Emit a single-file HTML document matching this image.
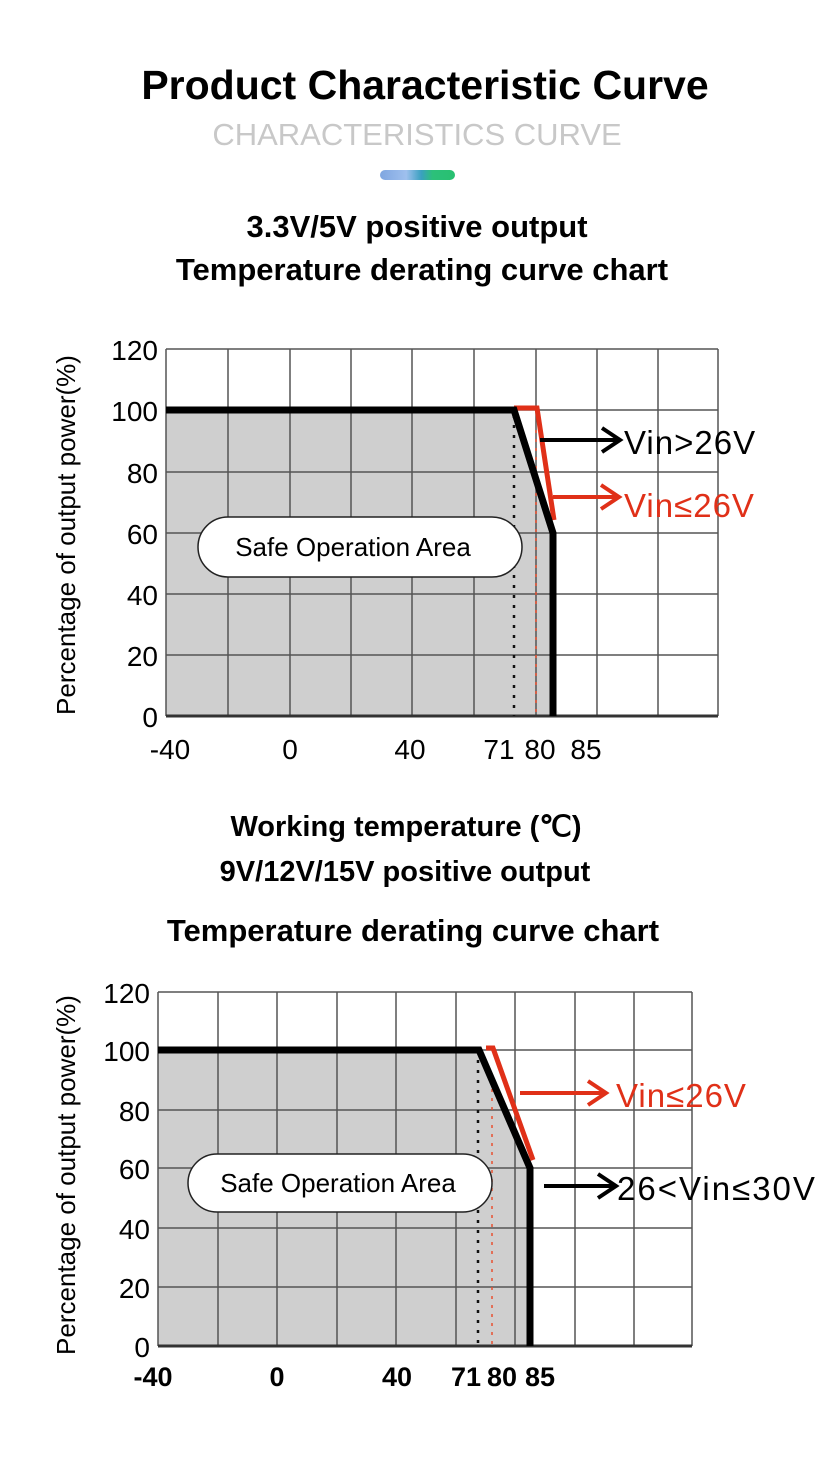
<!DOCTYPE html>
<html><head><meta charset="utf-8"><style>
html,body{margin:0;padding:0;background:#fff;}
svg{display:block;}
text{font-family:"Liberation Sans",sans-serif;}
</style></head><body>
<svg width="833" height="1472" viewBox="0 0 833 1472" xmlns="http://www.w3.org/2000/svg">
<defs>
<linearGradient id="g" x1="0" x2="1"><stop offset="0" stop-color="#7fa6e0"/><stop offset="0.35" stop-color="#9fc0ee"/><stop offset="0.55" stop-color="#3aa0c0"/><stop offset="0.7" stop-color="#2cc07a"/><stop offset="1" stop-color="#28c070"/></linearGradient>
</defs>
<text x="425" y="99" font-size="41" font-weight="bold" text-anchor="middle">Product Characteristic Curve</text>
<text x="417" y="145" font-size="31" fill="#c8c8c8" text-anchor="middle">CHARACTERISTICS CURVE</text>
<rect x="380" y="170" width="75" height="10" rx="5" fill="url(#g)"/>
<text x="417" y="237" font-size="31" font-weight="bold" text-anchor="middle">3.3V/5V positive output</text>
<text x="422" y="280" font-size="31" font-weight="bold" text-anchor="middle">Temperature derating curve chart</text>

<!-- Chart 1 -->
<polygon points="166,410 514,410 553,533 553,716 166,716" fill="#cfcfcf"/>
<g stroke="#555" stroke-width="1.5">
<line x1="166" y1="349" x2="718" y2="349"/><line x1="166" y1="410" x2="718" y2="410"/><line x1="166" y1="472" x2="718" y2="472"/><line x1="166" y1="533" x2="718" y2="533"/><line x1="166" y1="594" x2="718" y2="594"/><line x1="166" y1="655" x2="718" y2="655"/>
<line x1="166" y1="349" x2="166" y2="716"/><line x1="228" y1="349" x2="228" y2="716"/><line x1="290" y1="349" x2="290" y2="716"/><line x1="351" y1="349" x2="351" y2="716"/><line x1="412" y1="349" x2="412" y2="716"/><line x1="474" y1="349" x2="474" y2="716"/><line x1="536" y1="349" x2="536" y2="716"/><line x1="597" y1="349" x2="597" y2="716"/><line x1="658" y1="349" x2="658" y2="716"/><line x1="718" y1="349" x2="718" y2="716"/>
</g>
<line x1="166" y1="716" x2="718" y2="716" stroke="#333" stroke-width="3"/>
<line x1="514" y1="415" x2="514" y2="716" stroke="#111" stroke-width="2.5" stroke-dasharray="3,7"/>
<line x1="536" y1="430" x2="536" y2="716" stroke="#e85030" stroke-width="1.5" stroke-dasharray="3,6"/>
<polyline points="514,408 537,408 554,520" fill="none" stroke="#e03018" stroke-width="5"/>
<polyline points="166,410 514,410 553,533 553,716" fill="none" stroke="#000" stroke-width="7"/>
<rect x="198" y="517" width="324" height="60" rx="30" fill="#fff" stroke="#222" stroke-width="1.5"/>
<text x="353" y="556" font-size="26" text-anchor="middle">Safe Operation Area</text>
<g stroke="#000" stroke-width="4" fill="none"><line x1="540" y1="440" x2="618" y2="440"/><polyline points="602,428 620,440 602,452"/></g>
<text x="624" y="454" font-size="33" letter-spacing="1">Vin&gt;26V</text>
<g stroke="#e03018" stroke-width="4" fill="none"><line x1="553" y1="497" x2="617" y2="497"/><polyline points="601,485 619,497 601,509"/></g>
<text x="624" y="517" font-size="33" fill="#e03018" letter-spacing="1">Vin≤26V</text>
<g font-size="28" text-anchor="end">
<text x="158" y="360">120</text><text x="158" y="421">100</text><text x="158" y="483">80</text><text x="158" y="544">60</text><text x="158" y="605">40</text><text x="158" y="666">20</text><text x="158" y="727">0</text>
</g>
<g font-size="28" text-anchor="middle">
<text x="170" y="759">-40</text><text x="290" y="759">0</text><text x="410" y="759">40</text><text x="499" y="759">71</text><text x="540" y="759">80</text><text x="586" y="759">85</text>
</g>
<text transform="translate(75,535) rotate(-90)" font-size="26" text-anchor="middle">Percentage of output power(%)</text>

<text x="406" y="836" font-size="29" font-weight="bold" text-anchor="middle">Working temperature (℃)</text>
<text x="405" y="881" font-size="29" font-weight="bold" text-anchor="middle">9V/12V/15V positive output</text>
<text x="413" y="941" font-size="31" font-weight="bold" text-anchor="middle">Temperature derating curve chart</text>

<!-- Chart 2 -->
<polygon points="158,1050 479,1050 530,1168 530,1346 158,1346" fill="#cfcfcf"/>
<g stroke="#555" stroke-width="1.5">
<line x1="158" y1="992" x2="692" y2="992"/><line x1="158" y1="1050" x2="692" y2="1050"/><line x1="158" y1="1110" x2="692" y2="1110"/><line x1="158" y1="1168" x2="692" y2="1168"/><line x1="158" y1="1228" x2="692" y2="1228"/><line x1="158" y1="1287" x2="692" y2="1287"/>
<line x1="158" y1="992" x2="158" y2="1346"/><line x1="218" y1="992" x2="218" y2="1346"/><line x1="277" y1="992" x2="277" y2="1346"/><line x1="337" y1="992" x2="337" y2="1346"/><line x1="396" y1="992" x2="396" y2="1346"/><line x1="456" y1="992" x2="456" y2="1346"/><line x1="515" y1="992" x2="515" y2="1346"/><line x1="575" y1="992" x2="575" y2="1346"/><line x1="634" y1="992" x2="634" y2="1346"/><line x1="692" y1="992" x2="692" y2="1346"/>
</g>
<line x1="158" y1="1346" x2="692" y2="1346" stroke="#333" stroke-width="3"/>
<line x1="478" y1="1060" x2="478" y2="1346" stroke="#111" stroke-width="2.5" stroke-dasharray="3,7"/>
<line x1="492" y1="1080" x2="492" y2="1346" stroke="#e85030" stroke-width="1.5" stroke-dasharray="3,6"/>
<polyline points="486,1048 493,1048 533,1160" fill="none" stroke="#e03018" stroke-width="5"/>
<polyline points="158,1050 479,1050 530,1168 530,1346" fill="none" stroke="#000" stroke-width="7"/>
<rect x="188" y="1154" width="304" height="58" rx="29" fill="#fff" stroke="#222" stroke-width="1.5"/>
<text x="338" y="1192" font-size="26" text-anchor="middle">Safe Operation Area</text>
<g stroke="#e03018" stroke-width="4" fill="none"><line x1="520" y1="1093" x2="604" y2="1093"/><polyline points="588,1081 606,1093 588,1105"/></g>
<text x="616" y="1107" font-size="33" fill="#e03018" letter-spacing="1">Vin≤26V</text>
<g stroke="#000" stroke-width="4" fill="none"><line x1="544" y1="1186" x2="614" y2="1186"/><polyline points="598,1174 616,1186 598,1198"/></g>
<text x="617" y="1200" font-size="33" letter-spacing="2">26&lt;Vin≤30V</text>
<g font-size="28" text-anchor="end">
<text x="150" y="1003">120</text><text x="150" y="1061">100</text><text x="150" y="1121">80</text><text x="150" y="1179">60</text><text x="150" y="1239">40</text><text x="150" y="1298">20</text><text x="150" y="1357">0</text>
</g>
<g font-size="27" font-weight="bold" text-anchor="middle">
<text x="153" y="1386">-40</text><text x="277" y="1386">0</text><text x="397" y="1386">40</text><text x="466" y="1386">71</text><text x="502" y="1386">80</text><text x="540" y="1386">85</text>
</g>
<text transform="translate(75,1175) rotate(-90)" font-size="26" text-anchor="middle">Percentage of output power(%)</text>
</svg>
</body></html>
